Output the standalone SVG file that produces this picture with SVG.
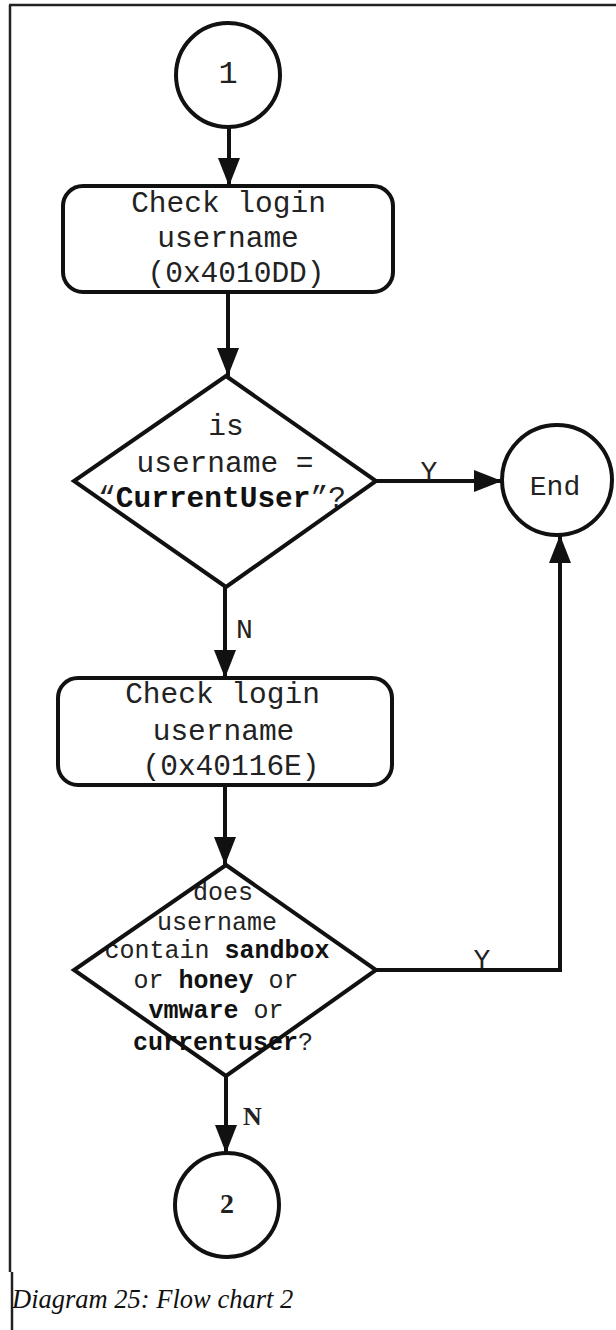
<svg xmlns="http://www.w3.org/2000/svg" width="616" height="1330" viewBox="0 0 616 1330">
  <defs>
    <marker id="arrow" markerWidth="30" markerHeight="22" refX="28" refY="11" orient="auto" markerUnits="userSpaceOnUse">
      <path d="M0,0 L28,11 L0,22 Z" fill="#111"/>
    </marker>
  </defs>
  <style>
    .outline{fill:none;stroke:#111;stroke-width:4;stroke-linejoin:miter}
    .frame{fill:none;stroke:#222;stroke-width:2.5}
    .link{fill:none;stroke:#111;stroke-width:4;marker-end:url(#arrow)}
    .mono{font-family:"Liberation Mono","Courier New",monospace;fill:#222;text-anchor:middle}
    .big{font-size:29.5px}
    .small{font-size:25px}
    .b{font-weight:bold;fill:#111}
    .lbl{font-family:"Liberation Mono","Courier New",monospace;font-size:28px;fill:#222}
    .serifb{font-family:"Liberation Serif","Times New Roman",serif;font-weight:bold;fill:#222}
    .caption{font-family:"Liberation Serif","Times New Roman",serif;font-style:italic;font-size:26.5px;fill:#111}
  </style>

  <rect width="616" height="1330" fill="#fff"/>

  <!-- page frame -->
  <g id="frame">
    <path class="frame" d="M9,5 H616"/>
    <path class="frame" d="M10,5 V1272"/>
    <path class="frame" d="M12,1272 V1330"/>
  </g>

  <!-- connectors -->
  <g id="connectors">
    <path class="link" d="M229,127 V186"/>
    <path class="link" d="M228,292 V376"/>
    <path class="link" d="M376,481 H502"/>
    <path class="link" d="M225,587 V678"/>
    <path class="link" d="M225,785 V865"/>
    <path class="link" d="M376,970 H560 V535"/>
    <path class="link" d="M226,1076 V1153"/>
    <text class="lbl" x="429" y="480" text-anchor="middle">Y</text>
    <text class="lbl" x="482" y="968" text-anchor="middle">Y</text>
    <text class="lbl" x="236" y="638">N</text>
    <text class="serifb" x="243" y="1125" font-size="26">N</text>
  </g>

  <!-- start connector 1 -->
  <g id="start1">
    <circle class="outline" cx="228" cy="75" r="52"/>
    <text class="mono" x="228" y="83" font-size="32">1</text>
  </g>

  <!-- first username check -->
  <g id="check1">
    <rect class="outline" x="63" y="186" width="330" height="106" rx="20"/>
    <text class="mono big" x="228.5" y="212">Check login</text>
    <text class="mono big" x="228" y="247">username</text>
    <text class="mono big" x="236" y="282">(0x4010DD)</text>
  </g>

  <!-- decision: is username CurrentUser -->
  <g id="decision1">
    <text class="mono big" x="226" y="435">is</text>
    <text class="mono big" x="225" y="472">username =</text>
    <text class="mono big" x="222" y="507">“<tspan class="b">CurrentUser</tspan>”?</text>
    <polygon class="outline" points="226,376 376,481 226,587 74,481"/>
  </g>

  <!-- end terminator -->
  <g id="end">
    <circle class="outline" cx="557" cy="480" r="55"/>
    <text class="mono" x="555" y="495" font-size="28">End</text>
  </g>

  <!-- second username check -->
  <g id="check2">
    <rect class="outline" x="58" y="678" width="334" height="107" rx="20"/>
    <text class="mono big" x="222.5" y="703">Check login</text>
    <text class="mono big" x="223.5" y="740">username</text>
    <text class="mono big" x="231" y="775">(0x40116E)</text>
  </g>

  <!-- decision: username contains a sandbox name -->
  <g id="decision2">
    <text class="mono small" x="223" y="900">does</text>
    <text class="mono small" x="217" y="930">username</text>
    <text class="mono small" x="217" y="958">contain <tspan class="b">sandbox</tspan></text>
    <text class="mono small" x="216" y="988">or <tspan class="b">honey</tspan> or</text>
    <text class="mono small" x="216" y="1018"><tspan class="b">vmware</tspan> or</text>
    <text class="mono small" x="223" y="1050"><tspan class="b">currentuser</tspan>?</text>
    <polygon class="outline" points="226,865 376,970 226,1076 74,970"/>
  </g>

  <!-- continuation connector 2 -->
  <g id="next2">
    <circle class="outline" cx="227" cy="1205" r="52"/>
    <text class="serifb" x="227" y="1213" font-size="28" text-anchor="middle">2</text>
  </g>

  <text class="caption" x="12" y="1308">Diagram 25: Flow chart 2</text>
</svg>
